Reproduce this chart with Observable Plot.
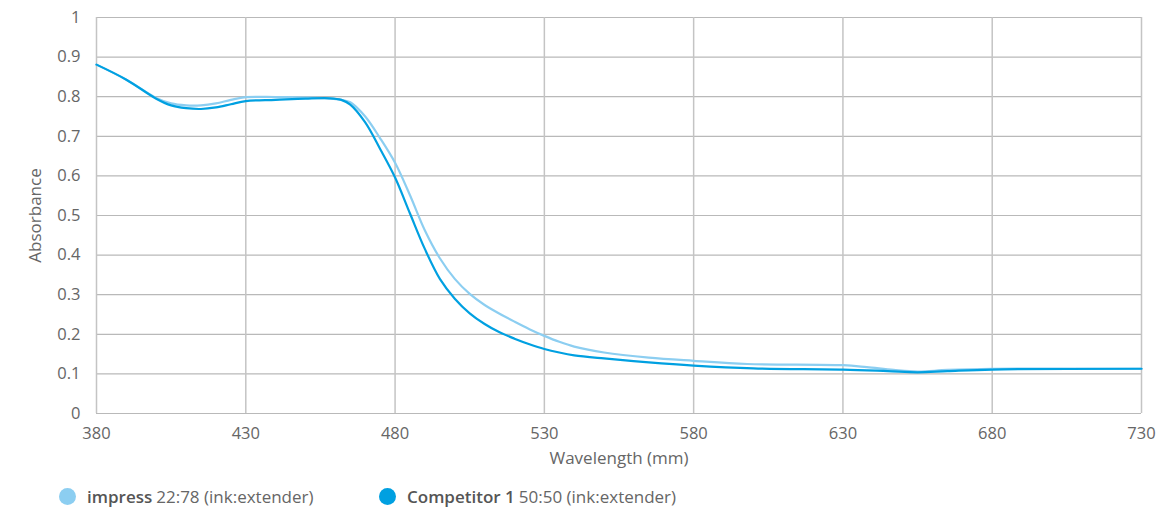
<!DOCTYPE html>
<html>
<head>
<meta charset="utf-8">
<script src="https://cdn.jsdelivr.net/npm/d3@7"></script>
<script src="https://cdn.jsdelivr.net/npm/@observablehq/plot@0.6"></script>
<style>
  html, body { margin: 0; padding: 0; background: #fff; }
  #wrap { position: relative; width: 1161px; height: 514px; font-family: "Open Sans", "Noto Sans", sans-serif; }
  #legend { position: absolute; left: 0; top: 484px; width: 1161px; height: 24px; font-size: 17px; color: #666; }
  .item { position: absolute; top: 0; display: flex; align-items: center; height: 24px; white-space: nowrap; }
  .dot { width: 17px; height: 17px; border-radius: 50%; display: inline-block; margin-right: 11px; }
  .item b { color: #555; font-weight: 600; margin-right: 4px; }
  #chart svg g[aria-label="x-axis tick label"] text,
  #chart svg g[aria-label="y-axis tick label"] text { font-size: 16.5px; }
  #chart svg g[aria-label="x-axis label"] text,
  #chart svg g[aria-label="y-axis label"] text { font-size: 17px; }
</style>
</head>
<body>
<div id="wrap">
  <div id="chart"></div>
  <div id="legend"></div>
</div>
<script>
// ---- data ----
const seriesNames = ["impress", "Competitor 1"];
const seriesRatios = ["22:78 (ink:extender)", "50:50 (ink:extender)"];
const seriesColors = ["#8ccef1", "#00a0e1"];

const impressWl = [380, 390, 400, 405, 410, 415, 420, 425, 430, 440, 450, 458, 462, 465, 470, 475, 480, 485, 490, 495, 500, 505, 510, 515, 520, 525, 530, 535, 540, 550, 565, 580, 598, 630, 638, 647, 655, 665, 680, 730];
const impressAbs = [0.881, 0.843, 0.797, 0.783, 0.778, 0.778, 0.783, 0.792, 0.799, 0.799, 0.798, 0.796, 0.792, 0.786, 0.750, 0.695, 0.633, 0.551, 0.462, 0.392, 0.340, 0.302, 0.274, 0.252, 0.232, 0.213, 0.196, 0.181, 0.169, 0.154, 0.141, 0.133, 0.125, 0.122, 0.117, 0.110, 0.106, 0.110, 0.113, 0.113];

const compWl = [380, 390, 400, 405, 410, 415, 420, 425, 430, 440, 450, 458, 462, 465, 470, 475, 480, 485, 490, 495, 500, 505, 510, 515, 520, 525, 530, 535, 540, 550, 565, 580, 600, 630, 645, 655, 665, 680, 730];
const compAbs = [0.881, 0.843, 0.795, 0.778, 0.771, 0.769, 0.773, 0.781, 0.789, 0.792, 0.795, 0.796, 0.792, 0.780, 0.735, 0.668, 0.596, 0.505, 0.415, 0.340, 0.290, 0.253, 0.226, 0.205, 0.189, 0.175, 0.163, 0.154, 0.147, 0.139, 0.129, 0.121, 0.114, 0.111, 0.107, 0.104, 0.107, 0.111, 0.113];

const xTicks = [380, 430, 480, 530, 580, 630, 680, 730];
const yTicks = [0, 0.1, 0.2, 0.3, 0.4, 0.5, 0.6, 0.7, 0.8, 0.9, 1];
const xLabel = "Wavelength (mm)";
const yLabel = "Absorbance";

// ---- build ----
const impress = impressWl.map((w, i) => ({wl: w, abs: impressAbs[i]}));
const comp = compWl.map((w, i) => ({wl: w, abs: compAbs[i]}));

const chart = Plot.plot({
  width: 1161,
  height: 470,
  marginLeft: 96,
  marginRight: 20,
  marginTop: 17,
  marginBottom: 57,
  style: { fontFamily: "'Open Sans', 'Noto Sans', sans-serif", fontSize: "16.5px", color: "#666", background: "#fff" },
  x: { domain: [380, 730], ticks: xTicks },
  y: { domain: [0, 1], ticks: yTicks },
  marks: [
    Plot.gridY(yTicks, { stroke: "#b9b9b9", strokeOpacity: 1, strokeWidth: 1.2 }),
    Plot.gridX(xTicks, { stroke: "#c4c4c4", strokeOpacity: 1, strokeWidth: 1.5 }),
    Plot.axisX({ ticks: xTicks, tickSize: 0, tickPadding: 14, fill: "#666",
      label: xLabel, labelAnchor: "center", labelArrow: "none", labelOffset: 50 }),
    Plot.axisY({ ticks: yTicks, tickSize: 0, tickPadding: 16, fill: "#666",
      tickFormat: d => String(+d.toFixed(1)),
      label: yLabel, labelAnchor: "center", labelArrow: "none", labelOffset: 68 }),
    Plot.line(impress, { x: "wl", y: "abs", stroke: seriesColors[0], strokeWidth: 2.2, curve: "catmull-rom" }),
    Plot.line(comp, { x: "wl", y: "abs", stroke: seriesColors[1], strokeWidth: 2.2, curve: "catmull-rom" })
  ]
});
document.getElementById("chart").appendChild(chart);

// ---- legend ----
const legend = document.getElementById("legend");
const legendX = [59, 379];
seriesNames.forEach((n, i) => {
  const it = document.createElement("div");
  it.className = "item";
  it.style.left = legendX[i] + "px";
  it.innerHTML = `<span class="dot" style="background:${seriesColors[i]}"></span><b>${n}</b><span>${seriesRatios[i]}</span>`;
  legend.appendChild(it);
});
</script>
</body>
</html>
